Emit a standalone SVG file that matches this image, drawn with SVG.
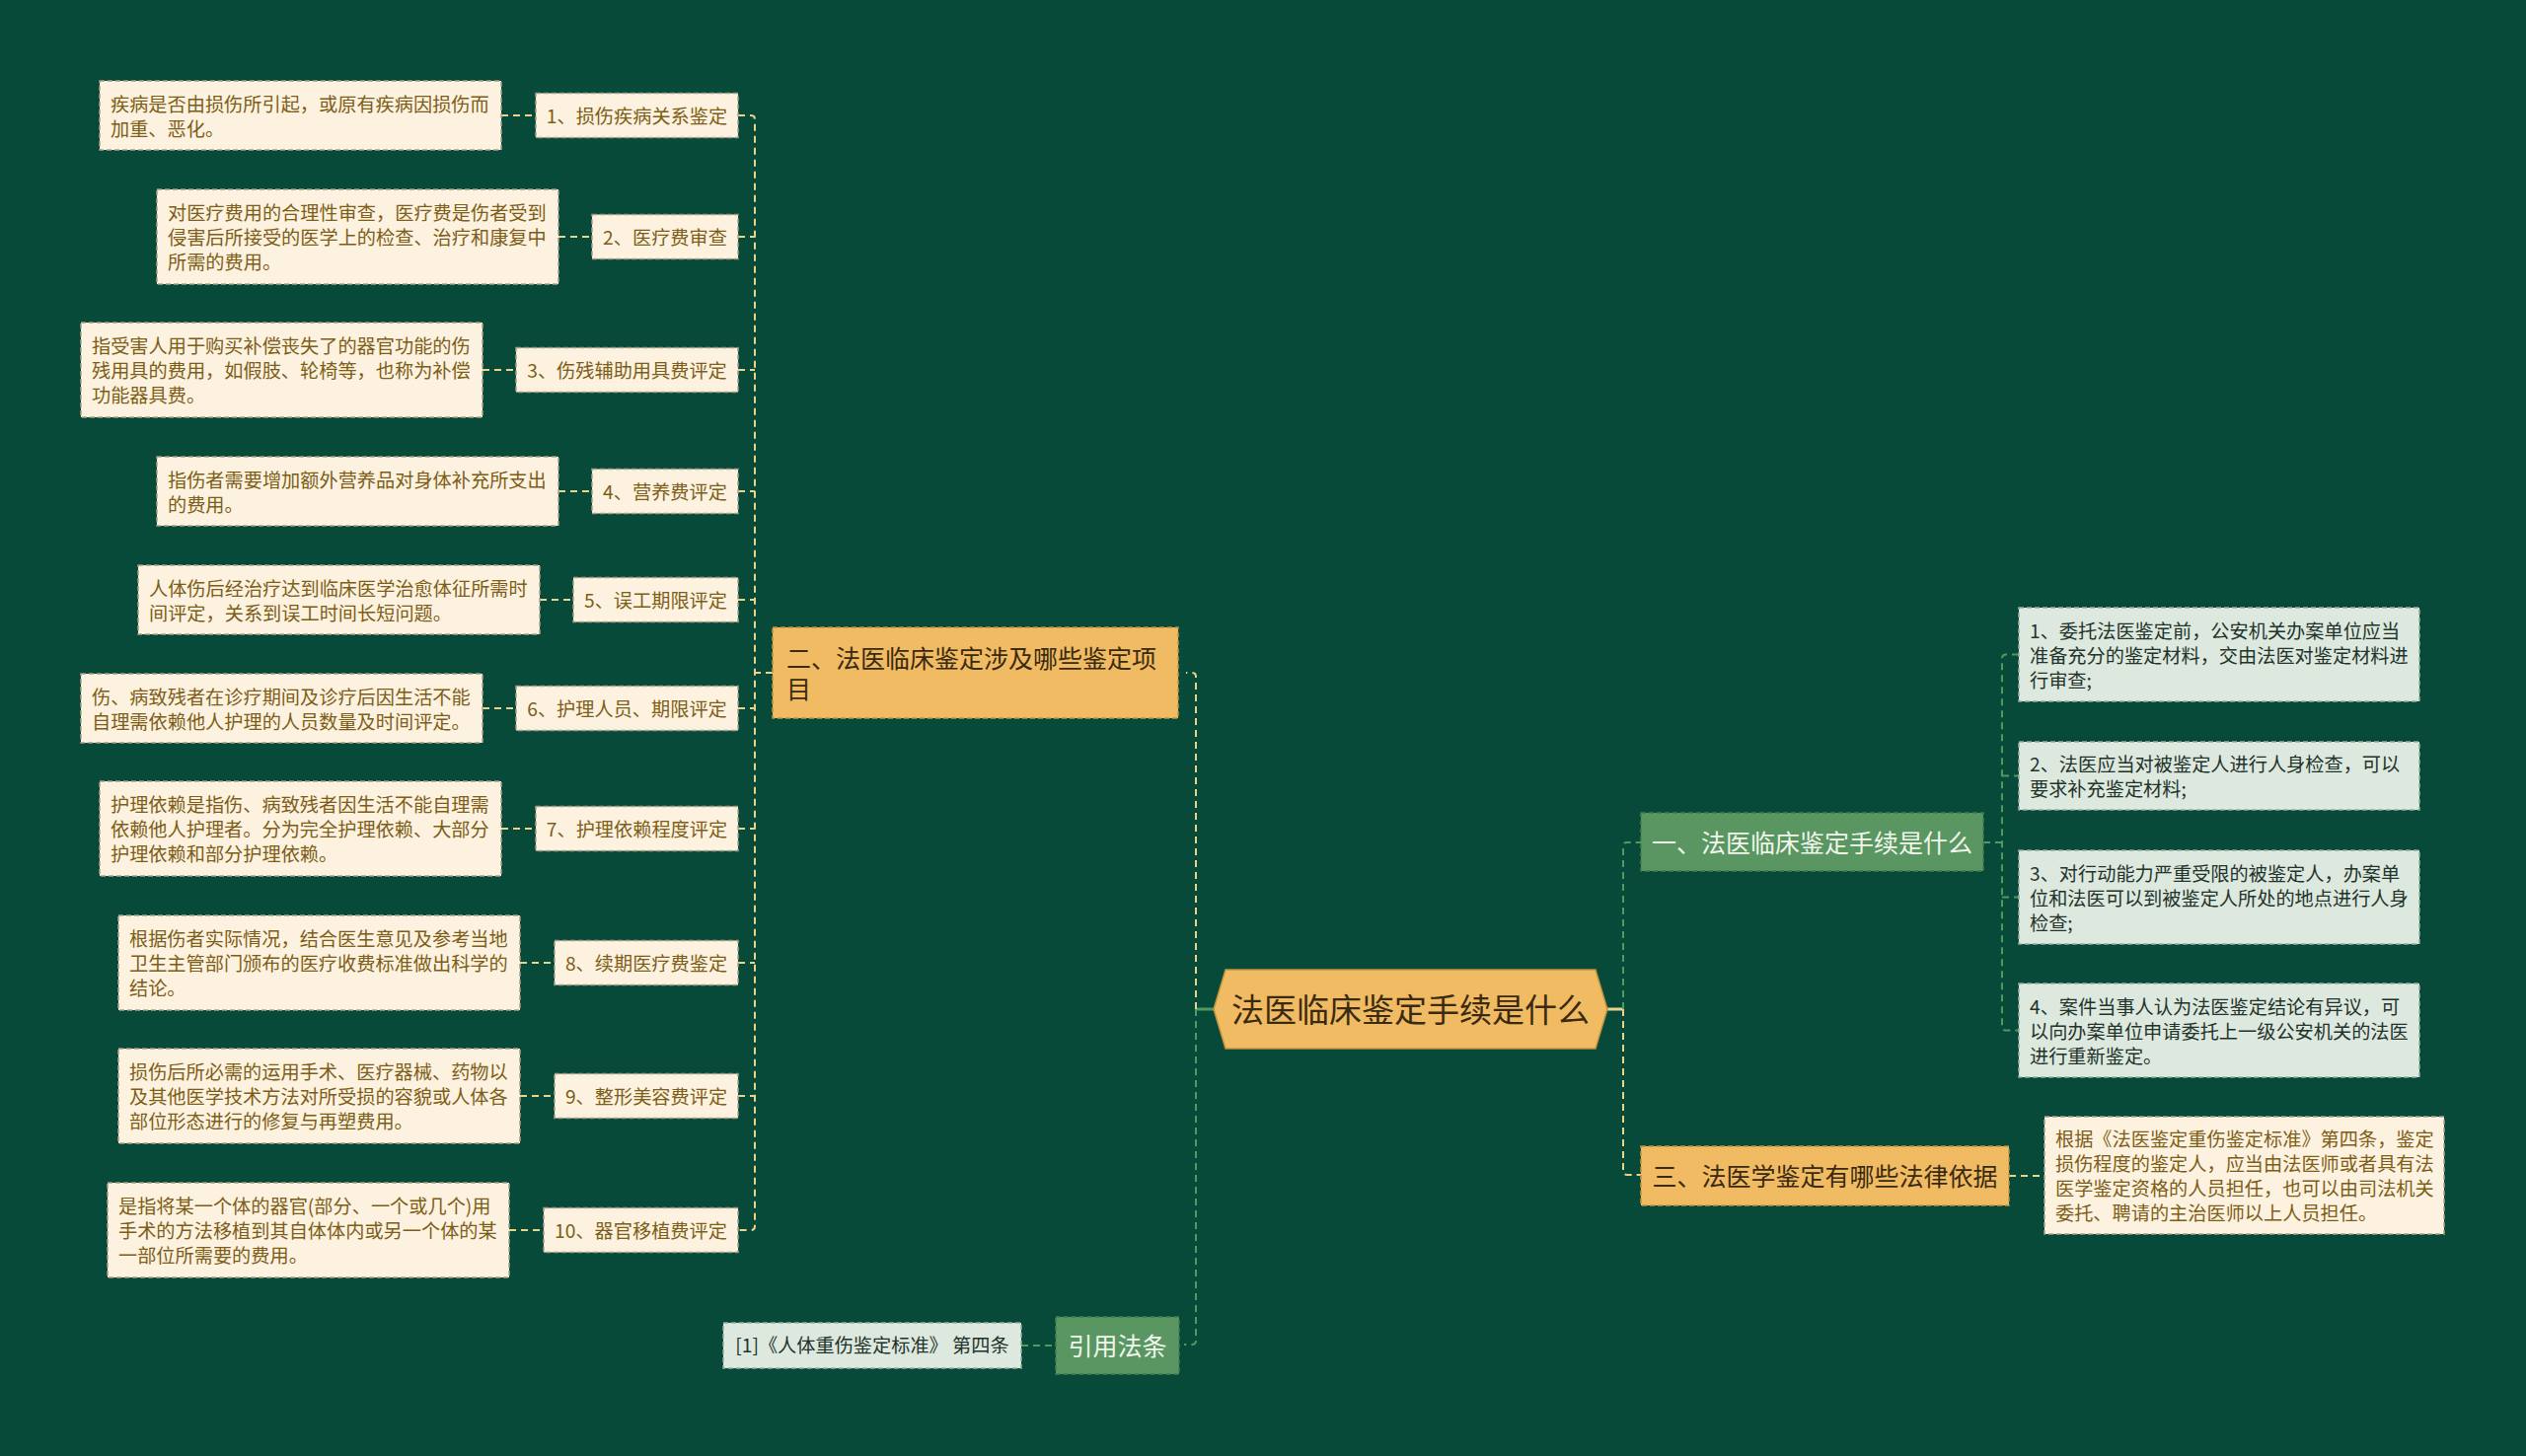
<svg xmlns="http://www.w3.org/2000/svg" width="2560" height="1476" viewBox="0 0 2560 1476">
<style>
text{font-family:"Noto Sans CJK SC","Noto Sans CJK JP",sans-serif;}
.leaf{fill:#fcf2df;stroke:#a99f88;stroke-width:1.5;stroke-dasharray:5 3;}
.gold{fill:#f0bb63;stroke:#c2923f;stroke-width:1.5;stroke-dasharray:5 3;}
.gnode{fill:#5a9661;stroke:#467e4d;stroke-width:1.5;stroke-dasharray:5 3;}
.pale{fill:#dde8df;stroke:#9aab9f;stroke-width:1.5;stroke-dasharray:5 3;}
.lt{font-size:19.2px;fill:#7d5d17;}
.ct{font-size:19.2px;fill:#7d5d17;text-anchor:middle;}
.pt{font-size:19.2px;fill:#22332a;}
.bt{font-size:25px;fill:#3a2a10;}
.gt{font-size:25px;fill:#f1f6ec;text-anchor:middle;}
.ylw{fill:none;stroke:#ebd489;stroke-width:2;stroke-dasharray:7 5;}
.grn{fill:none;stroke:#4f9a5f;stroke-width:2;stroke-dasharray:7 5;}
</style>
<rect x="0" y="0" width="2560" height="1476" fill="#084a39"/>

<g id="connectors">
  <!-- root to 二 (yellow) -->
  <line x1="1212" y1="1023" x2="1230" y2="1023" stroke="#4f9a5f" stroke-width="3"/>
  <path class="ylw" d="M1212 1023 V686 Q1212 682 1208 682 H1202"/>
  <!-- root to 引用法条 (green) -->
  <path class="grn" d="M1212 1023 V1359 Q1212 1363 1208 1363 H1200"/>
  <!-- root to 一 (green) -->
  <line x1="1628" y1="1023" x2="1645" y2="1023" stroke="#ebd489" stroke-width="3"/>
  <path class="grn" d="M1645 1023 V858 Q1645 854 1649 854 H1663"/>
  <!-- root to 三 (yellow) -->
  <path class="ylw" d="M1645 1023 V1187 Q1645 1191 1649 1191 H1663"/>
  <!-- 二 to items -->
  <path class="ylw" d="M783 682 H765"/>
  <path class="ylw" d="M748 117 H761 Q765 117 765 121 V1243 Q765 1247 761 1247 H748"/>
  <path class="ylw" d="M748 240 H765 M748 375 H765 M748 498 H765 M748 608 H765 M748 718 H765 M748 840 H765 M748 976 H765 M748 1111 H765"/>
  <!-- items to descriptions -->
  <path class="ylw" d="M508 117 H543 M566 240 H600 M489 375 H523 M566 498 H600 M547 608 H581 M489 718 H523 M508 840 H543 M527 976 H562 M527 1111 H562 M516 1247 H551"/>
  <!-- 一 to children -->
  <path class="grn" d="M2010 854 H2029"/>
  <path class="grn" d="M2046 663.5 H2033 Q2029 663.5 2029 667.5 V1040.5 Q2029 1044.5 2033 1044.5 H2046"/>
  <path class="grn" d="M2029 786.5 H2046 M2029 909.5 H2046"/>
  <!-- 三 to description -->
  <path class="ylw" d="M2036 1192 H2072"/>
  <!-- 引用法条 to citation -->
  <path class="grn" d="M1035 1364 H1070"/>
</g>

<g id="root">
  <polygon points="1230,1023 1242,983 1617,983 1629,1023 1617,1063 1242,1063" fill="#f0bb63" stroke="#c2923f" stroke-width="1.5"/>
  <text x="1429.5" y="1035.5" font-size="33" fill="#3a2a10" text-anchor="middle">法医临床鉴定手续是什么</text>
</g>

<g id="branch-2">
  <rect class="gold" x="783" y="636" width="411" height="92"/>
  <text class="bt" x="797" y="676.5">二、法医临床鉴定涉及哪些鉴定项</text>
  <text class="bt" x="797" y="707.5">目</text>
</g>

<g id="item-1">
  <rect class="leaf" x="543" y="94.5" width="205" height="45"/>
  <text class="ct" x="645.5" y="124.5">1、损伤疾病关系鉴定</text>
</g>
<g id="desc-1">
  <rect class="leaf" x="101" y="82" width="407" height="70"/>
  <text class="lt" x="112" y="112.5">疾病是否由损伤所引起，或原有疾病因损伤而</text>
  <text class="lt" x="112" y="137.5">加重、恶化。</text>
</g>

<g id="item-2">
  <rect class="leaf" x="600" y="217.5" width="148" height="45"/>
  <text class="ct" x="674" y="247.5">2、医疗费审查</text>
</g>
<g id="desc-2">
  <rect class="leaf" x="159" y="192" width="407" height="96"/>
  <text class="lt" x="170" y="223">对医疗费用的合理性审查，医疗费是伤者受到</text>
  <text class="lt" x="170" y="248">侵害后所接受的医学上的检查、治疗和康复中</text>
  <text class="lt" x="170" y="273">所需的费用。</text>
</g>

<g id="item-3">
  <rect class="leaf" x="523" y="352.5" width="225" height="45"/>
  <text class="ct" x="635.5" y="382.5">3、伤残辅助用具费评定</text>
</g>
<g id="desc-3">
  <rect class="leaf" x="82" y="327" width="407" height="96"/>
  <text class="lt" x="93" y="358">指受害人用于购买补偿丧失了的器官功能的伤</text>
  <text class="lt" x="93" y="383">残用具的费用，如假肢、轮椅等，也称为补偿</text>
  <text class="lt" x="93" y="408">功能器具费。</text>
</g>

<g id="item-4">
  <rect class="leaf" x="600" y="475.5" width="148" height="45"/>
  <text class="ct" x="674" y="505.5">4、营养费评定</text>
</g>
<g id="desc-4">
  <rect class="leaf" x="159" y="463" width="407" height="70"/>
  <text class="lt" x="170" y="493.5">指伤者需要增加额外营养品对身体补充所支出</text>
  <text class="lt" x="170" y="518.5">的费用。</text>
</g>

<g id="item-5">
  <rect class="leaf" x="581" y="585.5" width="167" height="45"/>
  <text class="ct" x="664.5" y="615.5">5、误工期限评定</text>
</g>
<g id="desc-5">
  <rect class="leaf" x="140" y="573" width="407" height="70"/>
  <text class="lt" x="151" y="603.5">人体伤后经治疗达到临床医学治愈体征所需时</text>
  <text class="lt" x="151" y="628.5">间评定，关系到误工时间长短问题。</text>
</g>

<g id="item-6">
  <rect class="leaf" x="523" y="695.5" width="225" height="45"/>
  <text class="ct" x="635.5" y="725.5">6、护理人员、期限评定</text>
</g>
<g id="desc-6">
  <rect class="leaf" x="82" y="683" width="407" height="70"/>
  <text class="lt" x="93" y="713.5">伤、病致残者在诊疗期间及诊疗后因生活不能</text>
  <text class="lt" x="93" y="738.5">自理需依赖他人护理的人员数量及时间评定。</text>
</g>

<g id="item-7">
  <rect class="leaf" x="543" y="817.5" width="205" height="45"/>
  <text class="ct" x="645.5" y="847.5">7、护理依赖程度评定</text>
</g>
<g id="desc-7">
  <rect class="leaf" x="101" y="792" width="407" height="96"/>
  <text class="lt" x="112" y="823">护理依赖是指伤、病致残者因生活不能自理需</text>
  <text class="lt" x="112" y="848">依赖他人护理者。分为完全护理依赖、大部分</text>
  <text class="lt" x="112" y="873">护理依赖和部分护理依赖。</text>
</g>

<g id="item-8">
  <rect class="leaf" x="562" y="953.5" width="186" height="45"/>
  <text class="ct" x="655" y="983.5">8、续期医疗费鉴定</text>
</g>
<g id="desc-8">
  <rect class="leaf" x="120" y="928" width="407" height="96"/>
  <text class="lt" x="131" y="959">根据伤者实际情况，结合医生意见及参考当地</text>
  <text class="lt" x="131" y="984">卫生主管部门颁布的医疗收费标准做出科学的</text>
  <text class="lt" x="131" y="1009">结论。</text>
</g>

<g id="item-9">
  <rect class="leaf" x="562" y="1088.5" width="186" height="45"/>
  <text class="ct" x="655" y="1118.5">9、整形美容费评定</text>
</g>
<g id="desc-9">
  <rect class="leaf" x="120" y="1063" width="407" height="96"/>
  <text class="lt" x="131" y="1094">损伤后所必需的运用手术、医疗器械、药物以</text>
  <text class="lt" x="131" y="1119">及其他医学技术方法对所受损的容貌或人体各</text>
  <text class="lt" x="131" y="1144">部位形态进行的修复与再塑费用。</text>
</g>

<g id="item-10">
  <rect class="leaf" x="551" y="1224.5" width="197" height="45"/>
  <text class="ct" x="649.5" y="1254.5">10、器官移植费评定</text>
</g>
<g id="desc-10">
  <rect class="leaf" x="109" y="1199" width="407" height="96"/>
  <text class="lt" x="120" y="1230">是指将某一个体的器官(部分、一个或几个)用</text>
  <text class="lt" x="120" y="1255">手术的方法移植到其自体体内或另一个体的某</text>
  <text class="lt" x="120" y="1280">一部位所需要的费用。</text>
</g>

<g id="branch-cite">
  <rect class="gnode" x="1070" y="1335" width="125" height="58"/>
  <text class="gt" x="1132.5" y="1373.5">引用法条</text>
</g>
<g id="cite-1">
  <rect class="pale" x="733" y="1341" width="302" height="46"/>
  <text x="884" y="1371" font-size="19.2" fill="#22332a" text-anchor="middle">[1]《人体重伤鉴定标准》 第四条</text>
</g>

<g id="branch-1">
  <rect class="gnode" x="1663" y="824" width="347" height="59"/>
  <text class="gt" x="1836.5" y="863.5">一、法医临床鉴定手续是什么</text>
</g>
<g id="step-1">
  <rect class="pale" x="2046" y="616" width="406" height="95"/>
  <text class="pt" x="2057" y="646.5">1、委托法医鉴定前，公安机关办案单位应当</text>
  <text class="pt" x="2057" y="671.5">准备充分的鉴定材料，交由法医对鉴定材料进</text>
  <text class="pt" x="2057" y="696.5">行审查;</text>
</g>
<g id="step-2">
  <rect class="pale" x="2046" y="752" width="406" height="69"/>
  <text class="pt" x="2057" y="782">2、法医应当对被鉴定人进行人身检查，可以</text>
  <text class="pt" x="2057" y="807">要求补充鉴定材料;</text>
</g>
<g id="step-3">
  <rect class="pale" x="2046" y="862" width="406" height="95"/>
  <text class="pt" x="2057" y="892.5">3、对行动能力严重受限的被鉴定人，办案单</text>
  <text class="pt" x="2057" y="917.5">位和法医可以到被鉴定人所处的地点进行人身</text>
  <text class="pt" x="2057" y="942.5">检查;</text>
</g>
<g id="step-4">
  <rect class="pale" x="2046" y="997" width="406" height="95"/>
  <text class="pt" x="2057" y="1027.5">4、案件当事人认为法医鉴定结论有异议，可</text>
  <text class="pt" x="2057" y="1052.5">以向办案单位申请委托上一级公安机关的法医</text>
  <text class="pt" x="2057" y="1077.5">进行重新鉴定。</text>
</g>

<g id="branch-3">
  <rect class="gold" x="1663" y="1162" width="373" height="60"/>
  <text class="bt" x="1849.5" y="1201.5" text-anchor="middle">三、法医学鉴定有哪些法律依据</text>
</g>
<g id="basis-1">
  <rect class="leaf" x="2072" y="1132" width="405" height="119"/>
  <text class="lt" x="2083" y="1162">根据《法医鉴定重伤鉴定标准》第四条，鉴定</text>
  <text class="lt" x="2083" y="1187">损伤程度的鉴定人，应当由法医师或者具有法</text>
  <text class="lt" x="2083" y="1212">医学鉴定资格的人员担任，也可以由司法机关</text>
  <text class="lt" x="2083" y="1237">委托、聘请的主治医师以上人员担任。</text>
</g>
</svg>
